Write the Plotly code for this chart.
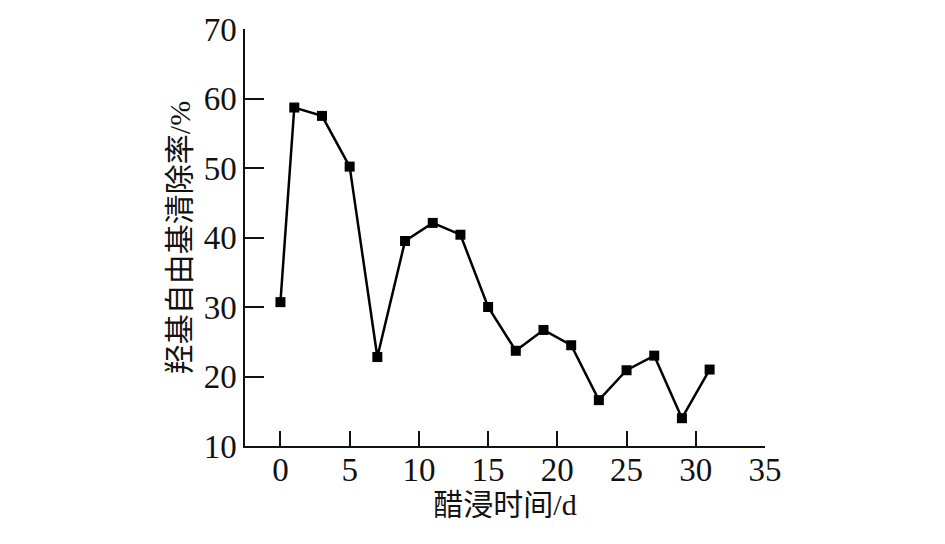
import plotly.graph_objects as go

days = [0, 1, 3, 5, 7, 9, 11, 13, 15, 17, 19, 21, 23, 25, 27, 29, 31]
scavenging_rate = [30.7, 58.7, 57.5, 50.2, 22.8, 39.5, 42.1, 40.4, 30.0, 23.7,
                   26.7, 24.5, 16.6, 20.9, 23.0, 14.0, 21.0]
x_ticks = [0, 5, 10, 15, 20, 25, 30, 35]
y_ticks = [10, 20, 30, 40, 50, 60, 70]

font_family = "Liberation Serif, Noto Sans CJK SC, serif"

fig = go.Figure()
fig.add_trace(go.Scatter(
    x=days, y=scavenging_rate, mode="lines+markers",
    line=dict(color="black", width=2.5),
    marker=dict(symbol="square", size=10, color="black"),
    showlegend=False,
))

fig.update_layout(
    width=945, height=544,
    margin=dict(l=237, r=188, t=21, b=106),
    paper_bgcolor="white", plot_bgcolor="white",
    font=dict(family=font_family, color="#111", size=33),
    xaxis=dict(
        range=[-2.56, 35], tickvals=x_ticks, ticks="inside", ticklen=15,
        tickwidth=1.5, tickcolor="#111", showline=True, linecolor="#111",
        linewidth=1.5, showgrid=False, zeroline=False, automargin=False,
        ticklabelstandoff=-6,
        tickfont=dict(size=33, family=font_family),
        title=dict(text="醋浸时间/d", font=dict(size=30, family=font_family), standoff=4),
    ),
    yaxis=dict(
        range=[10, 70], tickvals=y_ticks, ticks="inside", ticklen=19,
        tickwidth=1.5, tickcolor="#111", showline=True, linecolor="#111",
        linewidth=1.5, showgrid=False, zeroline=False, automargin=False,
        tickfont=dict(size=33, family=font_family),
        title=dict(text="羟基自由基清除率/%", font=dict(size=30, family=font_family), standoff=4),
    ),
)

fig.write_html("out.html")
